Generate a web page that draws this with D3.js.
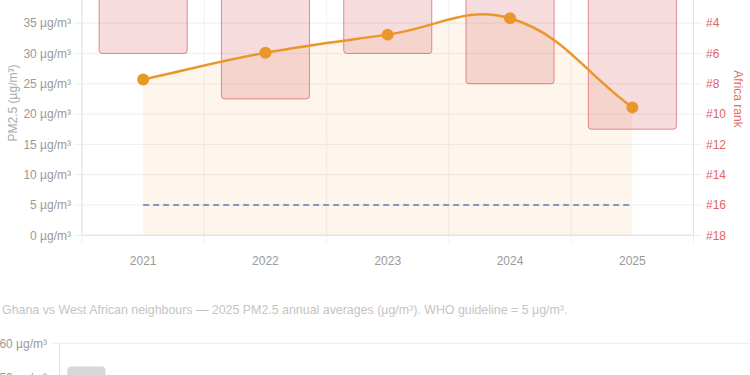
<!DOCTYPE html>
<html>
<head>
<meta charset="utf-8">
<script src="https://cdn.jsdelivr.net/npm/d3@7"></script>
<style>
  body { margin: 0; background: #fff; }
  svg { display: block; font-family: "Liberation Sans", Arial, sans-serif; }
</style>
</head>
<body>
<svg id="chart" width="750" height="375"></svg>
<script>
// ---- data ----
const years = ["2021", "2022", "2023", "2024", "2025"];
const pm25 = [25.7, 30.1, 33.1, 35.8, 21.1];
const africaRank = [6, 9, 6, 8, 11];
const whoGuideline = 5;
const pmTicks = [0, 5, 10, 15, 20, 25, 30, 35];
const rankTicks = [4, 6, 8, 10, 12, 14, 16, 18];

const caption = "Ghana vs West African neighbours \u2014 2025 PM2.5 annual averages (\u00b5g/m\u00b3). WHO guideline = 5 \u00b5g/m\u00b3.";
const neighbours = ["Nigeria", "Niger", "Burkina Faso", "Mali", "Togo", "Benin", "C\u00f4te d'Ivoire",
  "Ghana", "Senegal", "Guinea", "Gambia", "Sierra Leone", "Liberia"];
const neighbourPm25 = [53.2];   // only the first bar reaches into view
const neighbourTicks = [60, 50];

const svg = d3.select("#chart");
const unit = v => v + " \u00b5g/m\u00b3";

// ---- top chart scales ----
const x = d3.scaleBand().domain(years).range([82, 693.5]);
const y = d3.scaleLinear().domain([0, 40]).range([235.3, -7.2]);
const yr = d3.scaleLinear().domain([2, 18]).range([-7.2, 235.3]);

const g = svg.append("g");

// horizontal grid (with tick stubs on both sides)
g.append("g").selectAll("line")
  .data(pmTicks)
  .enter()
  .append("line")
  .attr("x1", 74).attr("x2", 702)
  .attr("y1", d => y(d)).attr("y2", d => y(d))
  .attr("stroke", "#eeeeee");

// vertical grid at band edges
const edges = years.map(d => x(d)).concat([x.range()[1]]);
g.append("g").selectAll("line")
  .data(edges)
  .enter()
  .append("line")
  .attr("x1", d => d).attr("x2", d => d)
  .attr("y1", -10).attr("y2", 243)
  .attr("stroke", "#f1f1f1");

// axis lines
g.append("line").attr("x1", 82).attr("x2", 82).attr("y1", -10).attr("y2", 235.3).attr("stroke", "#e2e2e2");
g.append("line").attr("x1", 693.5).attr("x2", 693.5).attr("y1", -10).attr("y2", 235.3).attr("stroke", "#e2e2e2");
g.append("line").attr("x1", 82).attr("x2", 693.5).attr("y1", 235.3).attr("y2", 235.3).attr("stroke", "#e2e2e2");

// Chart.js style spline (tension 0.4)
const pts = years.map((d, i) => [x(d) + x.bandwidth() / 2, y(pm25[i])]);
function spline(p, t) {
  const cps = p.map((cur, i) => {
    const prev = p[Math.max(i - 1, 0)], next = p[Math.min(i + 1, p.length - 1)];
    const d01 = Math.hypot(cur[0] - prev[0], cur[1] - prev[1]);
    const d12 = Math.hypot(next[0] - cur[0], next[1] - cur[1]);
    const s01 = d01 / (d01 + d12 || 1), s12 = d12 / (d01 + d12 || 1);
    const fa = t * s01, fb = t * s12;
    return {
      prev: [cur[0] - fa * (next[0] - prev[0]), cur[1] - fa * (next[1] - prev[1])],
      next: [cur[0] + fb * (next[0] - prev[0]), cur[1] + fb * (next[1] - prev[1])]
    };
  });
  let s = "M" + p[0];
  for (let i = 1; i < p.length; i++) {
    s += "C" + cps[i - 1].next + " " + cps[i].prev + " " + p[i];
  }
  return s;
}
const linePath = spline(pts, 0.4);

// area under line
g.append("path")
  .attr("d", linePath + "L" + pts[pts.length - 1][0] + "," + y(0) + "L" + pts[0][0] + "," + y(0) + "Z")
  .attr("fill", "rgba(240,150,40,0.09)");

// rank bars (reversed axis, hanging from top)
const bw = x.bandwidth() * 0.72;
g.append("g").selectAll("rect")
  .data(years)
  .enter()
  .append("rect")
  .attr("x", d => x(d) + (x.bandwidth() - bw) / 2)
  .attr("width", bw)
  .attr("y", yr(2) - 10)
  .attr("height", (d, i) => yr(africaRank[i]) - yr(2) + 10)
  .attr("rx", 3)
  .attr("fill", "rgba(214,69,80,0.19)")
  .attr("stroke", "rgba(214,69,80,0.6)")
  .attr("stroke-width", 1);

// WHO guideline
g.append("line")
  .attr("x1", pts[0][0]).attr("x2", pts[pts.length - 1][0])
  .attr("y1", y(whoGuideline)).attr("y2", y(whoGuideline))
  .attr("stroke", "#5a7db5")
  .attr("stroke-width", 1.6)
  .attr("stroke-dasharray", "6,4");

// PM2.5 line + points
g.append("path")
  .attr("d", linePath)
  .attr("fill", "none")
  .attr("stroke", "#e9972b")
  .attr("stroke-width", 2.5);

g.append("g").selectAll("circle")
  .data(pts)
  .enter()
  .append("circle")
  .attr("cx", d => d[0]).attr("cy", d => d[1])
  .attr("r", 6)
  .attr("fill", "#e9972b");

// left tick labels
g.append("g").selectAll("text")
  .data(pmTicks)
  .enter()
  .append("text")
  .attr("x", 71).attr("y", d => y(d))
  .attr("dy", "0.35em")
  .attr("text-anchor", "end")
  .attr("font-size", 12)
  .attr("fill", "#9a9a9a")
  .text(d => unit(d));

// right tick labels
g.append("g").selectAll("text")
  .data(rankTicks)
  .enter()
  .append("text")
  .attr("x", 706).attr("y", d => yr(d))
  .attr("dy", "0.35em")
  .attr("font-size", 12)
  .attr("fill", "#e06464")
  .text(d => "#" + d);

// year labels
g.append("g").selectAll("text")
  .data(years)
  .enter()
  .append("text")
  .attr("x", d => x(d) + x.bandwidth() / 2).attr("y", 261)
  .attr("dy", "0.35em")
  .attr("text-anchor", "middle")
  .attr("font-size", 12)
  .attr("fill", "#9a9a9a")
  .text(d => d);

// axis titles
g.append("text")
  .attr("transform", "translate(12.5,103) rotate(-90)")
  .attr("dy", "0.35em")
  .attr("text-anchor", "middle")
  .attr("font-size", 12)
  .attr("fill", "#aaaaaa")
  .text("PM2.5 (\u00b5g/m\u00b3)");

g.append("text")
  .attr("transform", "translate(738,99) rotate(90)")
  .attr("dy", "0.35em")
  .attr("text-anchor", "middle")
  .attr("font-size", 12)
  .attr("fill", "#e07070")
  .text("Africa rank");

// caption
svg.append("text")
  .attr("x", 2).attr("y", 310)
  .attr("dy", "0.35em")
  .attr("font-size", 12.4)
  .attr("fill", "#c4c4c4")
  .text(caption);

// ---- second chart (only its top is visible) ----
const x2 = d3.scaleBand().domain(neighbours).range([60, 746]);
const y2 = d3.scaleLinear().domain([0, 60]).range([547.3, 343.3]);
const g2 = svg.append("g");

g2.selectAll("line.grid")
  .data(neighbourTicks)
  .enter()
  .append("line")
  .attr("x1", 52).attr("x2", 750)
  .attr("y1", d => y2(d)).attr("y2", d => y2(d))
  .attr("stroke", "#eeeeee");

g2.append("line").attr("x1", 59.5).attr("x2", 59.5).attr("y1", 343).attr("y2", 380).attr("stroke", "#e2e2e2");

const bw2 = x2.bandwidth() * 0.72;
g2.selectAll("rect")
  .data(neighbourPm25)
  .enter()
  .append("rect")
  .attr("x", (d, i) => x2(neighbours[i]) + (x2.bandwidth() - bw2) / 2)
  .attr("width", bw2)
  .attr("y", d => y2(d))
  .attr("height", d => y2(0) - y2(d))
  .attr("rx", 4)
  .attr("fill", "#d7d7d7");

g2.selectAll("text")
  .data(neighbourTicks)
  .enter()
  .append("text")
  .attr("x", 47).attr("y", d => y2(d))
  .attr("dy", "0.35em")
  .attr("text-anchor", "end")
  .attr("font-size", 12)
  .attr("fill", "#9a9a9a")
  .text(d => unit(d));
</script>
</body>
</html>
